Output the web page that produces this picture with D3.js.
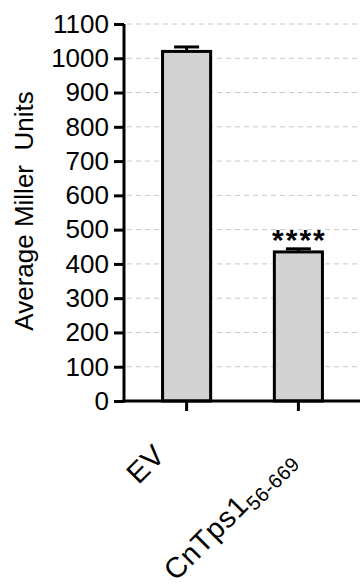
<!DOCTYPE html>
<html>
<head>
<meta charset="utf-8">
<script src="https://cdn.jsdelivr.net/npm/d3@7"></script>
<style>
  body { margin: 0; background: #fff; }
  svg { display: block; font-family: "Liberation Sans", Arial, sans-serif; }
</style>
</head>
<body>
<div id="content"></div>
<script>
// values
var groups = ["EV", "CnTps1"];
var subscripts = ["", "56-669"];
var means = [1020, 435];
var errors = [13, 9];
var stars = ["", "****"];
var yTicks = [0, 100, 200, 300, 400, 500, 600, 700, 800, 900, 1000, 1100];

var W = 360, H = 587;
var margin = { top: 24, right: 0, bottom: 186, left: 124 };
var height = H - margin.top - margin.bottom;

var svg = d3.select("#content").append("svg")
    .attr("width", W)
    .attr("height", H);

var x = d3.scaleBand()
    .domain(groups)
    .range([margin.left, W + 1])
    .paddingInner(0)
    .paddingOuter(0.06);

var y = d3.scaleLinear()
    .domain([0, 1100])
    .range([margin.top + height, margin.top]);

var barW = x.bandwidth() * 0.43;

// dashed grid
svg.append("g")
    .selectAll("line")
    .data(yTicks.filter(function (d) { return d > 0; }))
    .enter().append("line")
    .attr("x1", margin.left + 3)
    .attr("x2", W)
    .attr("y1", function (d) { return y(d); })
    .attr("y2", function (d) { return y(d); })
    .attr("stroke", "#c8c8c8")
    .attr("stroke-width", 1)
    .attr("stroke-dasharray", "5,4");

var data = groups.map(function (g, i) {
    return { name: g, sub: subscripts[i], mean: means[i], err: errors[i], star: stars[i] };
});

// bars
svg.append("g")
    .selectAll("rect")
    .data(data)
    .enter().append("rect")
    .attr("x", function (d) { return x(d.name) + x.bandwidth() / 2 - barW / 2; })
    .attr("y", function (d) { return y(d.mean); })
    .attr("width", barW)
    .attr("height", function (d) { return y(0) - y(d.mean); })
    .attr("fill", "#d3d3d3")
    .attr("stroke", "#000")
    .attr("stroke-width", 3);

// error bars (upper only)
var eb = svg.append("g").selectAll("g")
    .data(data)
    .enter().append("g")
    .attr("transform", function (d) { return "translate(" + (x(d.name) + x.bandwidth() / 2) + ",0)"; });
eb.append("line")
    .attr("x1", 0).attr("x2", 0)
    .attr("y1", function (d) { return y(d.mean); })
    .attr("y2", function (d) { return y(d.mean + d.err); })
    .attr("stroke", "#000").attr("stroke-width", 3);
eb.append("line")
    .attr("x1", -12.5).attr("x2", 12.5)
    .attr("y1", function (d) { return y(d.mean + d.err); })
    .attr("y2", function (d) { return y(d.mean + d.err); })
    .attr("stroke", "#000").attr("stroke-width", 3);

// significance stars
svg.append("g")
    .selectAll("text")
    .data(data)
    .enter().append("text")
    .attr("x", function (d) { return x(d.name) + x.bandwidth() / 2 + 1; })
    .attr("y", function (d) { return y(d.mean + d.err) + 1; })
    .attr("text-anchor", "middle")
    .style("font-size", "30px")
    .style("font-weight", "bold")
    .style("letter-spacing", "2px")
    .text(function (d) { return d.star; });

// y axis
var yAxis = d3.axisLeft(y).tickValues(yTicks).tickSize(10).tickPadding(5)
    .tickSizeOuter(0).tickFormat(d3.format("d"));
var gy = svg.append("g")
    .attr("transform", "translate(" + margin.left + ",0)")
    .call(yAxis);
gy.select(".domain").attr("stroke-width", 3).attr("d", "M0," + y(1100) + "V" + (y(0) + 1.5));
gy.selectAll(".tick line").attr("stroke-width", 3);
gy.selectAll(".tick text")
    .style("font-size", "26px")
    .style("font-family", "'Liberation Sans', Arial, sans-serif")
    .attr("fill", "#000");

// x axis
var xAxis = d3.axisBottom(x).tickSize(10).tickSizeOuter(0).tickFormat("");
var gx = svg.append("g")
    .attr("transform", "translate(0," + y(0) + ")")
    .call(xAxis);
gx.select(".domain").attr("stroke-width", 3).attr("d", "M" + (margin.left - 1.5) + ",0H" + W);
gx.selectAll(".tick line").attr("stroke-width", 3);

// rotated category labels (end-anchored below each tick)
var labels = svg.append("g")
    .selectAll("text")
    .data(data)
    .enter().append("text")
    .attr("text-anchor", "end")
    .style("font-size", "29px")
    .style("letter-spacing", "0.6px");
labels.append("tspan").text(function (d) { return d.name; });
labels.append("tspan")
    .attr("dy", 6)
    .style("font-size", "20px")
    .text(function (d) { return d.sub; });
labels.attr("transform", function (d) {
    var cx = x(d.name) + x.bandwidth() / 2;
    var len = this.getComputedTextLength();
    var dx = -20 + (len - 40) * 0.14;
    return "translate(" + (cx + dx) + "," + (y(0) + 56 + (len - 40) * 0.03) + ") rotate(-45)";
});

// y title
svg.append("text")
    .attr("transform", "translate(33," + 211 + ") rotate(-90)")
    .attr("text-anchor", "middle")
    .style("font-size", "26px")
    .style("white-space", "pre")
    .text("Average Miller  Units");
</script>
</body>
</html>
